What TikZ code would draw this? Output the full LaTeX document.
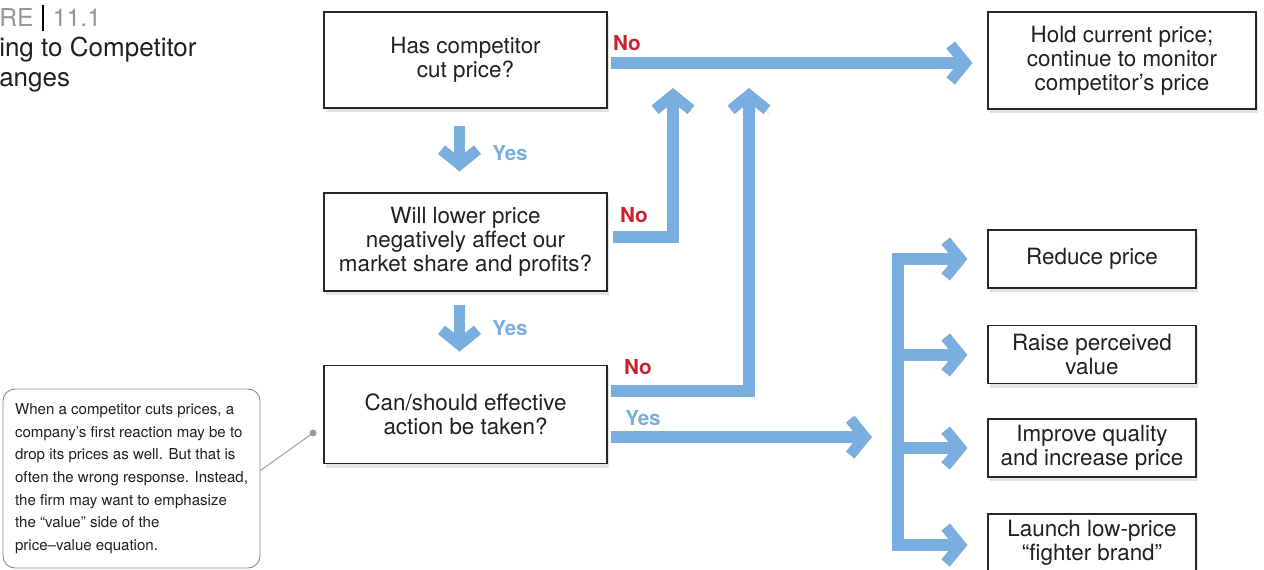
\documentclass[tikz,border=0pt]{standalone}
\usepackage{fontspec}
\setmainfont{TeX Gyre Heros}
\usetikzlibrary{arrows.meta,shadows,calc}
\definecolor{ablue}{RGB}{122,174,222}
\definecolor{nored}{RGB}{205,32,44}
\definecolor{tgray}{RGB}{150,150,150}
\definecolor{txt}{RGB}{35,31,32}
\begin{document}
\begin{tikzpicture}[x=0.75pt,y=-0.75pt,
  box/.style={draw=black!85, line width=0.8pt, fill=white, align=center, text=txt,
    font=\fontsize{16.8}{18}\selectfont, inner sep=0pt,
    drop shadow={shadow xshift=1.5pt, shadow yshift=-3pt, opacity=0.22}},
  qbox/.style={box, minimum width=212.25pt},
  sbox/.style={box, minimum width=156pt, minimum height=43.5pt},
  flow/.style={draw=ablue, line width=8.3pt, line join=miter,
    -{Straight Barb[length=11pt,width=27pt]},
    preaction={draw=black, draw opacity=0.13, transform canvas={xshift=2pt,yshift=-3pt}}},
  bothflow/.style={flow, {Straight Barb[length=11pt,width=27pt]}-{Straight Barb[length=11pt,width=27pt]}},
  nolab/.style={text=nored, font=\fontsize{15.5}{15.5}\selectfont\bfseries},
  yeslab/.style={text=ablue, font=\fontsize{15.5}{15.5}\selectfont\bfseries},
  callout/.style={draw=black!45, line width=0.7pt, rounded corners=9pt, fill=white,
    minimum width=192.75pt, minimum height=134.25pt, inner sep=0pt,
    align=left, text=txt,
    font=\fontsize{11.3}{17}\selectfont}
]
\useasboundingbox (0,0) rectangle (1264,570);

% title
\node[anchor=west, inner sep=0pt, font=\fontsize{18.5}{18.5}\selectfont] (t1) at (-1,18)
  {\textcolor{tgray}{RE}\hspace{6pt}\rule[-3pt]{1.6pt}{19pt}\hspace{7pt}\textcolor{tgray}{11.1}};
\node[anchor=west, inner sep=0pt, text=txt, font=\fontsize{19.5}{19.5}\selectfont] (t2) at (-1,50) {ing to Competitor};
\node[anchor=west, inner sep=0pt, text=txt, font=\fontsize{19.5}{19.5}\selectfont] (t3) at (-1,82) {anges};

% question boxes
\node[qbox, minimum height=72pt] (b1) at (465.5,60) {Has competitor\\cut price?};
\node[qbox, minimum height=73.5pt] (b2) at (465.5,242) {Will lower price\\negatively affect our\\market share and profits?};
\node[qbox, minimum height=74pt] (b3) at (465.5,414.5) {Can/should effective\\action be taken?};

% result boxes
\node[box, minimum width=201pt, minimum height=72.75pt] (r0) at (1122,60.5) {Hold current price;\\continue to monitor\\competitor’s price};
\node[sbox] (r1) at (1092,259) {Reduce price};
\node[sbox] (r2) at (1092,354.5) {Raise perceived\\value};
\node[sbox] (r3) at (1092,448) {Improve quality\\and increase price};
\node[sbox] (r4) at (1092,543) {Launch low-price\\“fighter brand”};

% callout
\node[callout] (co) at (131.5,478.5) {When a competitor cuts prices, a\\company’s first reaction may be to\\drop its prices as well. But that is\\often the wrong response. Instead,\\the firm may want to emphasize\\the “value” side of the\\price–value equation.};
\coordinate (cdot) at (313,433);
\draw[black!40, line width=0.7pt] ($(co.east)+(0,-8)$) -- (cdot);
\fill[black!40] (cdot) circle (2.6pt);

% coordinates
\coordinate (up1) at (673,88);
\coordinate (up2) at (749,88);
\coordinate (bt) at (872,437);
\coordinate (bxa) at (898,259);
\coordinate (bxb) at (898,545);
\coordinate (bx2) at (894,355);
\coordinate (bx3) at (894,448);

% arrows
\draw[flow] ($(b1.south)+(-6,17)$) -- ($(b2.north)+(-6,-21)$);
\draw[flow] ($(b2.south)+(-6,13)$) -- ($(b3.north)+(-6,-13)$);
\draw[flow] ($(b1.east)+(3,3)$) -- ($(r0.west)+(-15,2.5)$);
\draw[flow] ($(b2.east)+(5,-5)$) -| (up1);
\draw[flow] ($(b3.east)+(3,-23.5)$) -| (up2);
\draw[flow] ($(b3.east)+(3,22.5)$) -- (bt);
\draw[bothflow] ($(r1.west)+(-20,0)$) -- (bxa) -- (bxb) -- ($(r4.west)+(-20,2)$);
\draw[flow] (bx2) -- ($(r2.west)+(-20,0.5)$);
\draw[flow] (bx3) -- ($(r3.west)+(-20,0)$);

% labels
\node[nolab] (n1) at (627,43) {No};
\node[nolab] (n2) at (634,215) {No};
\node[nolab] (n3) at (638,367) {No};
\node[yeslab] (y1) at (510,153) {Yes};
\node[yeslab] (y2) at (510,328) {Yes};
\node[yeslab] (y3) at (643,418) {Yes};
\end{tikzpicture}
\end{document}
